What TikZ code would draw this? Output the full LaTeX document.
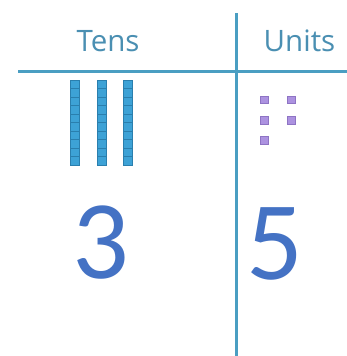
\documentclass[tikz,border=0pt]{standalone}
\usepackage{fontspec}
\setmainfont{Open Sans}
\newfontfamily\digitfont{Carlito}
\definecolor{linec}{HTML}{4A9EC2}
\definecolor{headc}{HTML}{4A8FB2}
\definecolor{digitc}{HTML}{4472C4}
\definecolor{barc}{HTML}{3DA2D6}
\definecolor{barl}{HTML}{2A7FAE}
\definecolor{unitc}{HTML}{AC92E0}
\definecolor{unitl}{HTML}{8E74C4}
\begin{document}
\begin{tikzpicture}[x=1pt,y=-1pt,
  header/.style={font=\fontsize{29.5}{31}\selectfont, text=headc, anchor=base, inner sep=0pt},
  digit/.style={font=\digitfont\fontsize{112}{112}\selectfont, text=digitc, anchor=base, inner sep=0pt},
  rule/.style={draw=linec, line width=3pt},
  cube/.style={fill=barc, draw=barl, line width=0.6pt},
  unitsq/.style={fill=unitc, draw=unitl, line width=0.5pt}]
\useasboundingbox (0,0) rectangle (347,356);
\fill[white] (0,0) rectangle (347,356);
\coordinate (hl) at (18,71.5);
\coordinate (hr) at (347,71.5);
\coordinate (vt) at (236,13);
\coordinate (vb) at (236,356);
\draw[rule] (hl) -- (hr);
\draw[rule] (vt) -- (vb);
\node[header] (tens) at (108,51) {Tens};
\node[header] (units) at (299.5,51) {Units};
\foreach \bx [count=\b] in {70,97,123}{
  \foreach \k in {0,...,9}{
    \path[cube] (\bx,80+8.5*\k) rectangle ++(9,8.5);
  }
}
\foreach \ux/\uy [count=\u] in {260.5/96, 287.5/96, 260.5/116.5, 287.5/116.5, 260.5/136.5}{
  \path[unitsq] (\ux,\uy) rectangle ++(7.5,7.5);
}
\node[digit] (three) at (101,278) {3};
\node[digit] (five) at (275,279) {5};
\end{tikzpicture}
\end{document}
